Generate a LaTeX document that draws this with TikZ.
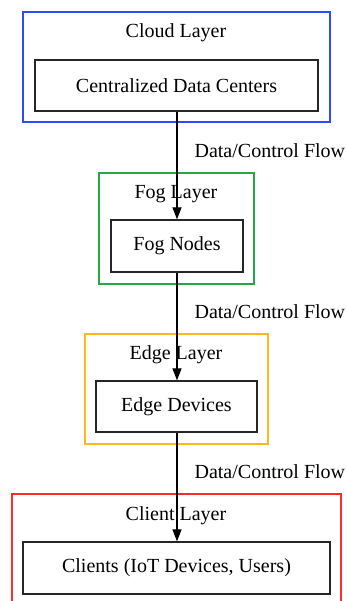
\documentclass[tikz,border=0pt]{standalone}
\usepackage{fontspec}
\setmainfont{Liberation Serif}
\usetikzlibrary{arrows.meta}
\definecolor{cblue}{HTML}{2B4BFF}
\definecolor{cgreen}{HTML}{22AA44}
\definecolor{corange}{HTML}{FFB81C}
\definecolor{cred}{HTML}{FF2A2A}
\newcommand{\dfont}{\fontsize{20}{22}\selectfont}
\tikzset{
  cluster/.style={draw, line width=1.3pt},
  nodebox/.style={draw=black!85, line width=1.3pt, inner sep=0pt, font=\dfont},
  lbl/.style={font=\dfont, inner sep=0pt},
  flow/.style={line width=1.2pt, -{Triangle[length=12pt,width=9pt]}},
}
\begin{document}
\begin{tikzpicture}[x=1pt,y=-1pt]
\useasboundingbox (0,0) rectangle (347,601);
% clusters
\draw[cluster, cblue] (23,12) rectangle (330,122);
\draw[cluster, cgreen] (99,173) rectangle (254,284);
\draw[cluster, corange] (85,334) rectangle (268,444);
\draw[cluster, cred] (12,494) rectangle (341,608);
% cluster labels
\node[lbl] (lcloud) at (176,33) {Cloud Layer};
\node[lbl] (lfog) at (176,194) {Fog Layer};
\node[lbl] (ledge) at (176,355) {Edge Layer};
\node[lbl] (lclient) at (176,516) {Client Layer};
% nodes
\node[nodebox, minimum width=283pt, minimum height=51pt] (dc) at (176.5,85.5) {Centralized Data Centers};
\node[nodebox, minimum width=132pt, minimum height=52pt] (fog) at (177,246) {Fog Nodes};
\node[nodebox, minimum width=161pt, minimum height=51pt] (edge) at (176.5,406.5) {Edge Devices};
\node[nodebox, minimum width=307pt, minimum height=52pt] (cl) at (176.5,568) {Clients (IoT Devices, Users)};
% edges
\draw[flow] (dc.south -| 177,0) -- (fog.north -| 177,0) node[pos=0.36, right=17pt, lbl, anchor=west] (f1) {Data/Control Flow};
\draw[flow] (fog.south -| 177,0) -- (edge.north -| 177,0) node[pos=0.36, right=17pt, lbl, anchor=west] (f2) {Data/Control Flow};
\draw[flow] (edge.south -| 177,0) -- (cl.north -| 177,0) node[pos=0.355, right=17pt, lbl, anchor=west] (f3) {Data/Control Flow};
\end{tikzpicture}
\end{document}
